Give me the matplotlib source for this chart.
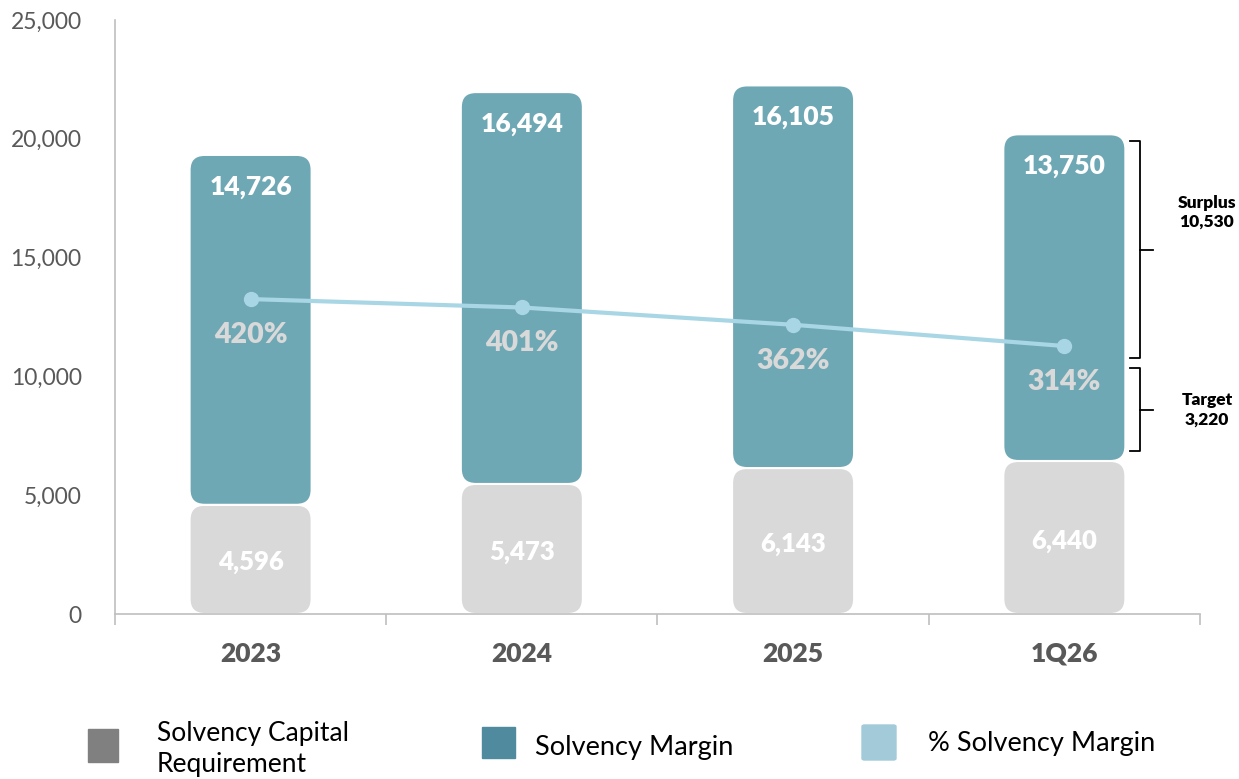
import matplotlib.pyplot as plt
from matplotlib.patches import FancyBboxPatch, Rectangle
from matplotlib.lines import Line2D
import matplotlib.transforms as mtransforms

plt.rcParams['font.family'] = ['Lato', 'DejaVu Sans']

# data
categories = ['2023', '2024', '2025', '1Q26']
scr = [4596, 5473, 6143, 6440]
margin = [14726, 16494, 16105, 13750]
pct = [420, 401, 362, 314]
surplus_label = 'Surplus\n10,530'
target_label = 'Target\n3,220'
target = 3220

c_scr = '#d9d9d9'
c_margin = '#6fa8b5'
c_line = '#a9d6e4'
c_text = '#595959'

fig = plt.figure(figsize=(12.39, 7.79), dpi=100)
ax = fig.add_axes([0.0928, 0.2118, 0.8757, 0.7625])
ax.set_xlim(-0.5, 3.5)
ax.set_ylim(0, 25000)

# rounded bars
bw = 0.45
x_per_px = 4 / (0.8757 * 1239)
y_per_px = 25000 / (0.7625 * 779)
aspect = y_per_px / x_per_px
rad = 15 * x_per_px

def rbar(x, bottom, h, color):
    p = FancyBboxPatch((x - bw / 2, bottom), bw, h,
                       boxstyle=f'round,pad=0,rounding_size={rad}',
                       mutation_aspect=aspect, facecolor=color,
                       edgecolor='white', linewidth=1.5, zorder=2)
    ax.add_patch(p)

for i in range(len(categories)):
    rbar(i, 0, scr[i], c_scr)
    rbar(i, scr[i], margin[i], c_margin)
    ax.annotate(f'{scr[i]:,}', (i, scr[i] / 2), xytext=(0, -3),
                textcoords='offset pixels', ha='center', va='center',
                color='white', fontsize=18.5, fontweight='heavy', zorder=4)
    ax.annotate(f'{margin[i]:,}', (i, scr[i] + margin[i]), xytext=(0, -32),
                textcoords='offset pixels', ha='center', va='center',
                color='white', fontsize=19, fontweight='heavy', zorder=4)

# percentage line on hidden secondary axis
ax2 = ax.twinx()
ax2.set_ylim(-291, 1050)
ax2.axis('off')
xs = range(len(categories))
ax2.plot(xs, pct, color=c_line, lw=3, marker='o', ms=10, zorder=5)
for i, p in enumerate(pct):
    ax2.annotate(f'{p}%', (i, p), xytext=(0, -36), textcoords='offset pixels',
                 ha='center', va='center', color='#d9d9d9', fontsize=20.5,
                 fontweight='heavy')

# axes styling
for s in ['top', 'right']:
    ax.spines[s].set_visible(False)
ax.spines['left'].set_color('#bfbfbf')
ax.spines['bottom'].set_color('#bfbfbf')
ax.spines['left'].set_linewidth(1.2)
ax.spines['bottom'].set_linewidth(1.2)
ax.set_yticks(range(0, 25001, 5000))
ax.set_yticklabels([f'{v:,}' for v in range(0, 25001, 5000)])
ax.tick_params(axis='y', length=0, pad=24, labelsize=16.5, labelcolor=c_text)
ax.set_xticks(range(len(categories)))
ax.set_xticklabels(categories, fontsize=19, fontweight='heavy', color=c_text)
ax.tick_params(axis='x', which='major', length=0, pad=20)
ax.set_xticks([-0.5, 0.5, 1.5, 2.5, 3.5], minor=True)
ax.tick_params(axis='x', which='minor', length=8, color='#bfbfbf', width=1.2)

# brackets on the right
tr = mtransforms.blended_transform_factory(fig.transFigure, ax.transData)
bx = 1140 / 1239
tick = 10 / 1239
top_total = scr[-1] + margin[-1]
mid = scr[-1] + target

def bracket(y0, y1):
    ym = (y0 + y1) / 2
    kw = dict(transform=tr, color='black', lw=1.3, clip_on=False)
    fig.add_artist(Line2D([bx - tick, bx, bx, bx - tick], [y0, y0, y1, y1], **kw))
    fig.add_artist(Line2D([bx, bx + tick * 1.3], [ym, ym], **kw))
    return ym

ym_t = bracket(scr[-1] + 400, mid + 700)
ym_s = bracket(mid + 1100, top_total - 300)
fig.text(1207 / 1239, 16900, surplus_label, transform=tr, ha='center',
         va='center', fontsize=12.5, fontweight='heavy', linespacing=1.25)
fig.text(1207 / 1239, 8600, target_label, transform=tr, ha='center',
         va='center', fontsize=12.5, fontweight='heavy', linespacing=1.25)

# legend
fig.add_artist(Rectangle((88 / 1239, 1 - 762 / 779), 30 / 1239, 33 / 779,
                         transform=fig.transFigure, color='#808080'))
fig.text(157 / 1239, 1 - 749 / 779, 'Solvency Capital\nRequirement',
         ha='left', va='center', fontsize=19, linespacing=1.3)
fig.add_artist(Rectangle((482 / 1239, 1 - 758 / 779), 33 / 1239, 31 / 779,
                         transform=fig.transFigure, color='#508a9e'))
fig.text(535 / 1239, 1 - 747 / 779, 'Solvency Margin', ha='left',
         va='center', fontsize=19.5)
fig.add_artist(FancyBboxPatch((862 / 1239, 1 - 760 / 779), 34 / 1239, 35 / 779,
                              boxstyle='round,pad=0,rounding_size=0.002',
                              transform=fig.transFigure, color='#a3cad9'))
fig.text(928 / 1239, 1 - 744 / 779, '% Solvency Margin', ha='left',
         va='center', fontsize=19.5)

fig.savefig('out.png', dpi=100)
